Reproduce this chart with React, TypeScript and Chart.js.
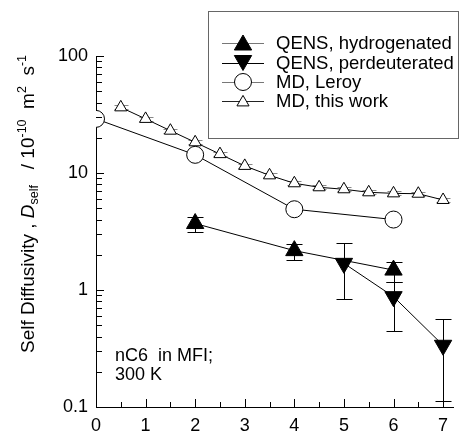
import React, { useEffect, useRef } from 'react';
import { Chart, registerables } from 'chart.js';

Chart.register(...registerables);

const xTicks = [0, 1, 2, 3, 4, 5, 6, 7];
const xMinorTicks = [0.5, 1.5, 2.5, 3.5, 4.5, 5.5, 6.5];
const yTicks = [0.1, 1, 10, 100];
const yTickLabels = ['0.1', '1', '10', '100'];

const hydroX = [2, 4, 6];
const hydroY = [3.7, 2.17, 1.48];
const hydroLow = [3.13, 1.8, 1.18];
const hydroHigh = [4.18, 2.46, 1.72];

const perdX = [5, 6, 7];
const perdY = [1.69, 0.877, 0.337];
const perdLow = [0.84, 0.446, 0.112];
const perdHigh = [2.51, 1.16, 0.56];

const leroyX = [0, 2, 4, 6];
const leroyY = [29, 14.3, 4.9, 4.0];

const mdX = [0.5, 1, 1.5, 2, 2.5, 3, 3.5, 4, 4.5, 5, 5.5, 6, 6.5, 7];
const mdY = [36.4, 29.0, 23.0, 18.3, 14.5, 11.5, 9.55, 8.17, 7.55, 7.26, 6.84, 6.7, 6.65, 5.88];
const mdLow = [35.0, 27.9, 22.1, 17.6, 13.9, 11.1, 9.18, 7.86, 7.26, 6.98, 6.58, 6.44, 6.39, 5.65];
const mdHigh = [37.9, 30.2, 23.9, 19.0, 15.1, 12.0, 9.93, 8.5, 7.85, 7.55, 7.11, 6.97, 6.92, 6.12];

const legendLabels = ['QENS, hydrogenated', 'QENS, perdeuterated', 'MD, Leroy', 'MD, this work'];
const noteLines = ['nC6  in MFI;', '300 K'];

const FONT = '"Liberation Sans", Arial, Helvetica, sans-serif';

function pts(xs: number[], ys: number[]) {
  return xs.map((x, i) => ({ x, y: ys[i] }));
}

function drawMarker(ctx: CanvasRenderingContext2D, style: string, x: number, y: number, r: number, rotation: number, fill: string, stroke: string) {
  ctx.save();
  ctx.beginPath();
  if (style === 'circle') {
    ctx.arc(x, y, r, 0, Math.PI * 2);
  } else {
    let rad = (rotation * Math.PI) / 180;
    const step = (2 * Math.PI) / 3;
    ctx.moveTo(x + Math.sin(rad) * r, y - Math.cos(rad) * r);
    rad += step;
    ctx.lineTo(x + Math.sin(rad) * r, y - Math.cos(rad) * r);
    rad += step;
    ctx.lineTo(x + Math.sin(rad) * r, y - Math.cos(rad) * r);
    ctx.closePath();
  }
  ctx.fillStyle = fill;
  ctx.fill();
  ctx.strokeStyle = stroke;
  ctx.lineWidth = 1;
  ctx.stroke();
  ctx.restore();
}

const overlay = {
  id: 'overlay',
  beforeDatasetsDraw(chart: any) {
    const ctx = chart.ctx as CanvasRenderingContext2D;
    const xs = chart.scales.x;
    const ys = chart.scales.y;
    chart.data.datasets.forEach((ds: any) => {
      if (!ds.errLow) return;
      ctx.save();
      ctx.strokeStyle = ds.errColor;
      ctx.lineWidth = 1;
      ds.data.forEach((p: any, i: number) => {
        const px = Math.round(xs.getPixelForValue(p.x)) + 0.5;
        const lo = Math.max(ds.errLow[i], 0.1);
        const yl = Math.round(ys.getPixelForValue(lo)) + 0.5;
        const yh = Math.round(ys.getPixelForValue(ds.errHigh[i])) + 0.5;
        const h = ds.capHalf;
        ctx.beginPath();
        ctx.moveTo(px, yl);
        ctx.lineTo(px, yh);
        ctx.moveTo(px - h, yl);
        ctx.lineTo(px + h, yl);
        ctx.moveTo(px - h, yh);
        ctx.lineTo(px + h, yh);
        ctx.stroke();
      });
      ctx.restore();
    });
  },
  afterDraw(chart: any) {
    const ctx = chart.ctx as CanvasRenderingContext2D;
    const xs = chart.scales.x;
    const ys = chart.scales.y;
    const area = chart.chartArea;
    ctx.save();
    ctx.strokeStyle = '#000';
    ctx.lineWidth = 1;
    ctx.beginPath();
    xTicks.forEach((v) => {
      const px = Math.round(xs.getPixelForValue(v)) + 0.5;
      ctx.moveTo(px, area.bottom);
      ctx.lineTo(px, area.bottom - 8);
    });
    xMinorTicks.forEach((v) => {
      const px = Math.round(xs.getPixelForValue(v)) + 0.5;
      ctx.moveTo(px, area.bottom);
      ctx.lineTo(px, area.bottom - 5);
    });
    [0.1, 1, 10].forEach((dec) => {
      for (let m = 1; m <= 10; m++) {
        const v = dec * m;
        const py = Math.round(ys.getPixelForValue(v)) + 0.5;
        const len = m === 1 || m === 10 ? 8 : 6;
        ctx.moveTo(area.left, py);
        ctx.lineTo(area.left + len, py);
      }
    });
    ctx.stroke();
    ctx.restore();

    // y axis title (rich text)
    const segs: { t: string; size: number; italic?: boolean; dy: number }[] = [
      { t: 'Self Diffusivity , ', size: 19, dy: 0 },
      { t: 'D', size: 19, italic: true, dy: 0 },
      { t: 'self', size: 12.5, dy: 4 },
      { t: '   / 10', size: 19, dy: 0 },
      { t: '-10', size: 12.5, dy: -8 },
      { t: '  m', size: 19, dy: 0 },
      { t: '2', size: 12.5, dy: -8 },
      { t: '  s', size: 19, dy: 0 },
      { t: '-1', size: 12.5, dy: -8 },
    ];
    ctx.save();
    ctx.translate(28, 204);
    ctx.rotate(-Math.PI / 2);
    ctx.fillStyle = '#000';
    ctx.textBaseline = 'alphabetic';
    ctx.textAlign = 'left';
    let total = 0;
    segs.forEach((s) => {
      ctx.font = `${s.italic ? 'italic ' : ''}${s.size}px ${FONT}`;
      total += ctx.measureText(s.t).width;
    });
    let cx = -total / 2;
    segs.forEach((s) => {
      ctx.font = `${s.italic ? 'italic ' : ''}${s.size}px ${FONT}`;
      ctx.fillText(s.t, cx, 6 + s.dy);
      cx += ctx.measureText(s.t).width;
    });
    ctx.restore();

    // legend
    ctx.save();
    ctx.fillStyle = '#fff';
    ctx.fillRect(208.5, 11.5, 250, 127);
    ctx.strokeStyle = '#666';
    ctx.lineWidth = 1;
    ctx.strokeRect(208.5, 11.5, 250, 127);
    const rows = [43, 62.5, 82, 101];
    const styles = [
      { s: 'triangle', r: 10, rot: 0, fill: '#000', line: '#777' },
      { s: 'triangle', r: 10, rot: 180, fill: '#000', line: '#000' },
      { s: 'circle', r: 8.5, rot: 0, fill: '#fff', line: '#777' },
      { s: 'triangle', r: 7, rot: 0, fill: '#fff', line: '#222' },
    ];
    rows.forEach((y, i) => {
      const st = styles[i];
      ctx.strokeStyle = st.line;
      ctx.beginPath();
      ctx.moveTo(222, Math.round(y) + 0.5);
      ctx.lineTo(264, Math.round(y) + 0.5);
      ctx.stroke();
      const my = st.s === 'triangle' ? (st.rot === 0 ? y + st.r * 0.2 : y - st.r * 0.2) : y;
      drawMarker(ctx, st.s, 243, my, st.r, st.rot, st.fill, '#000');
      ctx.fillStyle = '#000';
      ctx.font = `18.5px ${FONT}`;
      ctx.textBaseline = 'middle';
      ctx.textAlign = 'left';
      ctx.fillText(legendLabels[i], 276, y + 1);
    });
    ctx.restore();

    // note
    ctx.save();
    ctx.fillStyle = '#000';
    ctx.font = `18px ${FONT}`;
    ctx.textBaseline = 'middle';
    ctx.textAlign = 'left';
    ctx.fillText(noteLines[0], 115, 356);
    ctx.fillText(noteLines[1], 115, 375);
    ctx.restore();
  },
};

export default function App() {
  const ref = useRef<HTMLCanvasElement | null>(null);
  useEffect(() => {
    if (!ref.current) return;
    const chart = new Chart(ref.current, {
      type: 'scatter',
      data: {
        datasets: [
          {
            label: legendLabels[0],
            data: pts(hydroX, hydroY),
            showLine: true,
            borderColor: '#000',
            borderWidth: 1,
            pointStyle: 'triangle',
            pointRadius: 10,
            pointHoverRadius: 10,
            pointBackgroundColor: '#000',
            pointBorderColor: '#000',
            errLow: hydroLow,
            errHigh: hydroHigh,
            errColor: '#000',
            capHalf: 8,
          } as any,
          {
            label: legendLabels[1],
            data: pts(perdX, perdY),
            showLine: true,
            borderColor: '#000',
            borderWidth: 1,
            pointStyle: 'triangle',
            rotation: 180,
            pointRotation: 180,
            pointRadius: 10,
            pointHoverRadius: 10,
            pointBackgroundColor: '#000',
            pointBorderColor: '#000',
            errLow: perdLow,
            errHigh: perdHigh,
            errColor: '#000',
            capHalf: 8,
          } as any,
          {
            label: legendLabels[2],
            data: pts(leroyX, leroyY),
            showLine: true,
            borderColor: '#000',
            borderWidth: 1,
            pointStyle: 'circle',
            pointRadius: 8.5,
            pointHoverRadius: 8.5,
            pointBackgroundColor: '#fff',
            pointBorderColor: '#000',
            pointBorderWidth: 1,
          } as any,
          {
            label: legendLabels[3],
            data: pts(mdX, mdY),
            showLine: true,
            borderColor: '#000',
            borderWidth: 1,
            pointStyle: 'triangle',
            pointRadius: 7,
            pointHoverRadius: 7,
            pointBackgroundColor: '#fff',
            pointBorderColor: '#000',
            pointBorderWidth: 1,
            errLow: mdLow,
            errHigh: mdHigh,
            errColor: '#888',
            capHalf: 7,
          } as any,
        ],
      },
      options: {
        animation: false,
        responsive: false,
        devicePixelRatio: 1,
        layout: { padding: { top: 56, right: 8, left: 0, bottom: 0 } },
        plugins: { legend: { display: false }, tooltip: { enabled: false } },
        events: [],
        scales: {
          x: {
            type: 'linear',
            min: 0,
            max: 7.2,
            grid: { display: false, drawTicks: false },
            border: { display: true, color: '#000', width: 1 },
            afterBuildTicks: (s: any) => {
              s.ticks = xTicks.map((v) => ({ value: v }));
            },
            afterFit: (s: any) => {
              s.height = 25;
            },
            ticks: {
              padding: 8,
              color: '#000',
              font: { family: FONT, size: 18 },
              maxRotation: 0,
              autoSkip: false,
              callback: (v: any) => String(v),
            },
          },
          y: {
            type: 'logarithmic',
            min: 0.1,
            max: 100,
            grid: { display: false, drawTicks: false },
            border: { display: true, color: '#000', width: 1 },
            afterBuildTicks: (s: any) => {
              s.ticks = yTicks.map((v) => ({ value: v }));
            },
            afterFit: (s: any) => {
              s.width = 96;
            },
            ticks: {
              padding: 8,
              color: '#000',
              font: { family: FONT, size: 18 },
              autoSkip: false,
              callback: (v: any) => {
                const i = yTicks.indexOf(Number(v));
                return i >= 0 ? yTickLabels[i] : '';
              },
            },
          },
        },
      },
      plugins: [overlay],
    } as any);
    return () => chart.destroy();
  }, []);
  return (
    <div style={{ position: 'absolute', left: 0, top: 0, width: 464, height: 432, background: '#fff' }}>
      <canvas ref={ref} width={464} height={432} style={{ width: 464, height: 432, display: 'block' }} />
    </div>
  );
}
